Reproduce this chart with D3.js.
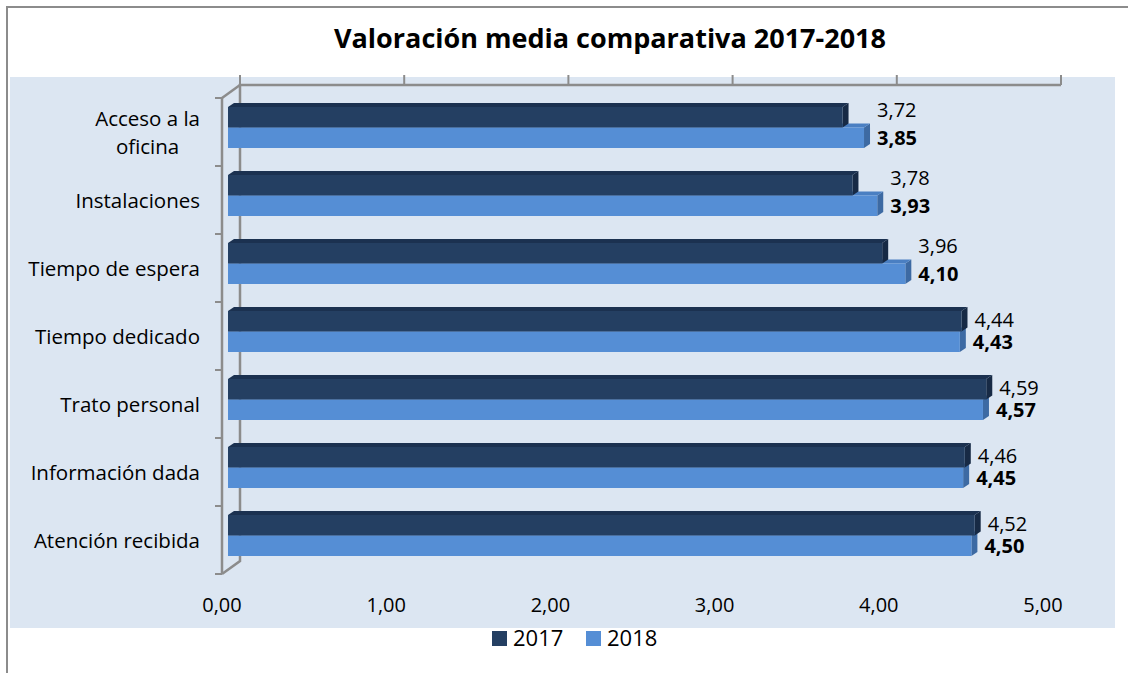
<!DOCTYPE html>
<html>
<head>
<meta charset="utf-8">
<script src="https://cdn.jsdelivr.net/npm/d3@7"></script>
<style>
  body { margin: 0; background: #fff; }
  text { font-family: 'Open Sans', sans-serif; fill: #000; }
</style>
</head>
<body>
<div class="chart"></div>
<script>
const svgWidth = 1128;
const svgHeight = 673;

// data
const categories = [
  'Acceso a la\noficina',
  'Instalaciones',
  'Tiempo de espera',
  'Tiempo dedicado',
  'Trato personal',
  'Información dada',
  'Atención recibida'
];
const values2017 = [3.72, 3.78, 3.96, 4.44, 4.59, 4.46, 4.52];
const values2018 = [3.85, 3.93, 4.10, 4.43, 4.57, 4.45, 4.50];
const seriesNames = ['2017', '2018'];
const tickValues = [0, 1, 2, 3, 4, 5];

const colors = {
  '2017': { front: '#243f62', top: '#1b3150', side: '#172a45' },
  '2018': { front: '#558ed5', top: '#4a7fc2', side: '#3d6aa3' }
};

const plot = { x: 10, y: 77, w: 1105, h: 551 };
const front = { left: 222, top: 98, bottom: 574 };
const depth = { dx: 18, dy: -13 };
const barDepth = { dx: 6, dy: -4 };
const catFont = '20.5px';

const fmt = v => d3.format('.2f')(v).replace('.', ',');

const svg = d3.select('.chart')
  .append('svg')
  .attr('width', svgWidth)
  .attr('height', svgHeight);

// outer frame (only left and top visible)
svg.append('path')
  .attr('d', `M7,${svgHeight} L7,7 L${svgWidth},7`)
  .attr('fill', 'none')
  .attr('stroke', '#8c8c8c')
  .attr('stroke-width', 2);

// plot background
svg.append('rect')
  .attr('x', plot.x)
  .attr('y', plot.y)
  .attr('width', plot.w)
  .attr('height', plot.h)
  .attr('fill', '#dce6f2');

// title
svg.append('text')
  .attr('x', 610)
  .attr('y', 48)
  .attr('text-anchor', 'middle')
  .style('font-weight', 'bold')
  .style('font-size', '27px')
  .text('Valoración media comparativa 2017-2018');

// scales
const xAxisScale = d3.scaleLinear().domain([0, 5]).range([front.left, front.left + 821]);
const xBar = d3.scaleLinear().domain([0, 5]).range([228, 1054]);
const yBand = d3.scaleBand().domain(categories).range([front.top, front.bottom]);
const ySeries = d3.scaleBand().domain(seriesNames).range([9, 50]);

// 3D frame: back wall & floor edges
const axisColor = '#8c8c8c';
const frame = svg.append('g')
  .attr('fill', 'none')
  .attr('stroke', axisColor)
  .attr('stroke-width', 2.5);

const backLeft = front.left + depth.dx;
const backTop = front.top + depth.dy;
const backBottom = front.bottom + depth.dy;

frame.append('path')
  .attr('d', `M${xAxisScale(5) + depth.dx},${backTop} L${backLeft},${backTop} L${backLeft},${backBottom} L${front.left},${front.bottom}`);
frame.append('path')
  .attr('d', `M${front.left},${front.top} L${backLeft},${backTop}`);
frame.append('line')
  .attr('x1', front.left).attr('x2', front.left)
  .attr('y1', front.top).attr('y2', front.bottom);

// top ticks on back wall
frame.selectAll('.vtick')
  .data(tickValues)
  .enter()
  .append('line')
  .attr('stroke-width', 2)
  .attr('x1', d => xAxisScale(d) + depth.dx)
  .attr('x2', d => xAxisScale(d) + depth.dx)
  .attr('y1', backTop)
  .attr('y2', backTop - 10);

// left ticks at category boundaries
const boundaries = categories.map(c => yBand(c)).concat([front.bottom]);
frame.selectAll('.htick')
  .data(boundaries)
  .enter()
  .append('line')
  .attr('stroke-width', 2)
  .attr('x1', front.left - 7)
  .attr('x2', front.left)
  .attr('y1', d => d)
  .attr('y2', d => d);

// x tick labels
svg.append('g')
  .selectAll('text')
  .data(tickValues)
  .enter()
  .append('text')
  .attr('x', d => xAxisScale(d))
  .attr('y', 612)
  .attr('text-anchor', 'middle')
  .style('font-size', '20px')
  .text(d => fmt(d));

// category labels
const catLabels = svg.append('g');
categories.forEach(function(c) {
  const lines = c.split('\n');
  const center = yBand(c) + yBand.bandwidth() / 2;
  const t = catLabels.append('text')
    .attr('text-anchor', 'middle')
    .style('font-size', catFont);
  const lineH = 28;
  const firstBase = center + 8 - (lines.length - 1) * lineH / 2;
  // right-align the block, centre lines within it
  const tmp = svg.append('text').style('font-size', catFont);
  let maxW = 0;
  lines.forEach(l => {
    tmp.text(l);
    maxW = Math.max(maxW, tmp.node().getComputedTextLength());
  });
  tmp.remove();
  t.selectAll('tspan')
    .data(lines)
    .enter()
    .append('tspan')
    .attr('x', 200 - maxW / 2)
    .attr('y', (d, i) => firstBase + i * lineH)
    .text(d => d);
});

// bars
const rows = categories.map((c, i) => ({
  cat: c,
  bars: [
    { series: '2017', value: values2017[i] },
    { series: '2018', value: values2018[i] }
  ]
}));

const rowGroups = svg.append('g')
  .selectAll('g')
  .data(rows)
  .enter()
  .append('g')
  .attr('transform', d => `translate(0, ${yBand(d.cat)})`);

// draw 2018 first so the 2017 bar's shading sits above
rowGroups.each(function(row) {
  const g = d3.select(this);
  row.bars.slice().reverse().forEach(function(b) {
    const x0 = xBar(0);
    const x1 = xBar(b.value);
    const y = ySeries(b.series);
    const h = ySeries.bandwidth();
    const c = colors[b.series];
    // side face
    g.append('path')
      .attr('d', `M${x1},${y} L${x1 + barDepth.dx},${y + barDepth.dy} L${x1 + barDepth.dx},${y + h + barDepth.dy} L${x1},${y + h} Z`)
      .attr('fill', c.side);
    // top face
    g.append('path')
      .attr('d', `M${x0},${y} L${x0 + barDepth.dx},${y + barDepth.dy} L${x1 + barDepth.dx},${y + barDepth.dy} L${x1},${y} Z`)
      .attr('fill', c.top);
    // front face
    g.append('rect')
      .attr('x', x0)
      .attr('y', y)
      .attr('width', x1 - x0)
      .attr('height', h)
      .attr('fill', c.front);
  });

  // value labels
  const v17 = row.bars[0].value;
  const v18 = row.bars[1].value;
  const y17 = ySeries('2017') + ySeries.bandwidth() / 2;
  const y18 = ySeries('2018') + ySeries.bandwidth() / 2;
  const x18 = xBar(v18) + barDepth.dx + 7;
  const overlap = v18 > v17;
  const x17 = overlap ? x18 : xBar(v17) + barDepth.dx + 7;

  g.append('text')
    .attr('x', x17)
    .attr('y', (overlap ? y17 - 7 : y17 - 1) + 7)
    .style('font-size', '20px')
    .text(fmt(v17));
  g.append('text')
    .attr('x', x18)
    .attr('y', y18 + 7)
    .style('font-size', '20px')
    .style('font-weight', 'bold')
    .text(fmt(v18));
});

// legend
const legend = svg.append('g')
  .attr('transform', 'translate(492, 631)');
const legendItems = legend.selectAll('g')
  .data(seriesNames)
  .enter()
  .append('g')
  .attr('transform', (d, i) => `translate(${i * 94}, 0)`);
legendItems.append('rect')
  .attr('width', 15)
  .attr('height', 15)
  .attr('fill', d => colors[d].front);
legendItems.append('text')
  .attr('x', 21)
  .attr('y', 15)
  .style('font-size', '22px')
  .text(d => d);
</script>
</body>
</html>
